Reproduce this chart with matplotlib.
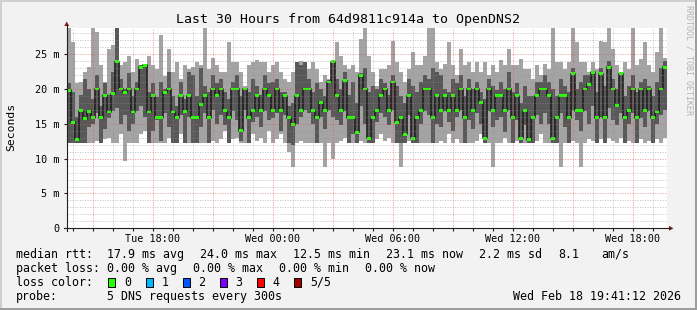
import matplotlib
matplotlib.use("Agg")
import matplotlib.pyplot as plt
import numpy as np
from matplotlib.patches import Polygon, Rectangle
from matplotlib.lines import Line2D

W, H = 697, 310
MONO = "DejaVu Sans Mono"

# time axis: hours since Tue 00:00, graph starts Tue 13:41:12, 12 minute bins
start_hour = 13 + 41.2 / 60
bin_hours = 0.2

# smoke: 5 DNS pings per bin, sorted -> min, 2nd, median, 4th, max (ms)
ping_max = [29.0, 26.7, 20.8, 21.0, 22.4, 23.1, 29.1, 28.2, 23.4, 21.0, 25.8, 26.3, 29.1, 23.4, 23.9,
            24.8, 22.4, 24.3, 23.4, 23.6, 24.8, 23.4, 22.9, 27.7, 21.9, 25.8, 22.4, 23.9, 21.5, 23.4,
            22.9, 23.1, 23.9, 23.4, 29.0, 22.9, 24.5, 23.4, 22.4, 22.4, 26.7, 23.9, 23.9, 22.4, 20.5,
            23.4, 23.9, 24.2, 23.9, 23.9, 22.4, 23.4, 23.9, 22.4, 21.5, 21.0, 22.4, 23.9, 24.0, 23.9,
            22.9, 23.9, 22.9, 21.0, 22.0, 21.5, 24.1, 26.7, 24.8, 23.4, 22.9, 23.4, 22.4, 27.2, 29.0,
            24.8, 22.4, 20.5, 22.9, 22.9, 23.4, 26.9, 23.9, 22.4, 21.0, 22.9, 25.3, 23.4, 23.4, 24.8,
            29.1, 29.5, 23.9, 22.9, 23.6, 26.7, 23.4, 22.0, 25.8, 23.4, 23.9, 22.4, 23.9, 22.4, 23.9,
            22.0, 23.4, 22.4, 24.1, 23.4, 25.8, 23.4, 23.4, 24.3, 22.9, 22.9, 21.5, 23.4, 22.0, 23.6,
            22.9, 29.0, 23.9, 23.9, 22.9, 23.9, 29.3, 26.7, 23.9, 23.9, 22.4, 23.9, 22.9, 26.9, 26.7,
            29.4, 25.8, 23.4, 22.4, 23.9, 22.9, 29.0, 23.4, 24.3, 26.7, 23.4, 22.4, 25.3, 29.0, 24.5]
ping_hi = [20.8, 19.5, 16.0, 19.2, 21.5, 20.0, 18.5, 22.0, 17.5, 20.8, 19.2, 22.5, 29.0, 21.5, 20.0,
           22.3, 19.0, 21.0, 23.4, 23.5, 19.5, 20.8, 18.8, 21.0, 20.0, 22.5, 19.0, 17.5, 21.0, 18.5,
           22.5, 22.0, 19.0, 23.0, 20.5, 19.5, 22.0, 20.8, 21.5, 19.5, 18.5, 21.0, 22.0, 19.0, 20.0,
           19.5, 21.5, 20.5, 19.2, 22.0, 20.8, 21.0, 21.5, 19.5, 19.5, 17.5, 18.0, 23.9, 23.5, 23.9,
           21.5, 19.5, 20.8, 20.0, 19.0, 21.3, 24.0, 21.5, 20.0, 22.5, 19.2, 21.0, 18.0, 22.3, 23.0,
           19.5, 20.5, 20.0, 21.5, 20.8, 19.2, 22.0, 20.5, 19.0, 18.0, 21.5, 20.5, 19.5, 21.0, 22.0,
           21.5, 23.0, 22.5, 22.0, 20.0, 19.5, 21.5, 20.8, 22.0, 19.0, 21.5, 20.0, 21.0, 19.5, 18.5,
           21.5, 20.5, 19.8, 21.0, 20.0, 22.5, 19.5, 20.8, 18.0, 20.5, 19.0, 19.0, 21.0, 21.0, 22.0,
           21.0, 20.0, 19.0, 21.5, 20.5, 19.5, 23.0, 20.0, 21.0, 22.0, 22.0, 22.5, 19.5, 23.0, 20.5,
           24.0, 21.5, 20.0, 22.3, 19.0, 20.5, 22.0, 19.5, 21.0, 21.5, 20.5, 19.0, 21.0, 23.0, 24.0]
ping_med = [19.8, 15.2, 12.8, 16.9, 15.7, 16.8, 15.9, 20.0, 15.9, 19.1, 16.7, 19.3, 23.9, 20.0, 19.5,
            20.0, 16.7, 20.0, 23.1, 23.4, 16.7, 19.0, 15.9, 15.9, 19.5, 20.0, 16.7, 15.9, 19.0, 16.8,
            19.0, 15.9, 15.9, 17.8, 19.0, 15.9, 20.0, 19.0, 20.0, 16.9, 15.9, 20.0, 20.0, 14.0, 20.0,
            15.9, 16.9, 19.0, 16.9, 20.0, 19.0, 16.9, 20.0, 16.9, 19.0, 15.9, 14.9, 19.0, 16.9, 20.0,
            20.0, 16.9, 15.9, 18.1, 16.9, 21.0, 23.9, 19.0, 16.9, 21.2, 15.9, 15.9, 13.8, 22.0, 20.0,
            12.9, 15.9, 16.9, 19.0, 20.0, 16.9, 21.0, 15.2, 15.9, 13.5, 19.0, 12.9, 15.9, 16.9, 20.0,
            20.0, 15.9, 19.0, 16.9, 19.0, 16.9, 19.0, 16.9, 20.0, 15.9, 20.0, 16.9, 20.0, 18.1, 12.9,
            20.0, 16.9, 19.0, 19.1, 16.9, 20.0, 15.9, 19.0, 12.9, 16.9, 12.7, 15.9, 19.0, 20.0, 20.0,
            19.0, 12.9, 15.9, 19.0, 19.0, 15.9, 22.2, 16.9, 16.9, 20.0, 20.7, 22.4, 15.9, 22.2, 15.9,
            23.1, 20.0, 17.6, 22.2, 15.9, 16.9, 20.0, 15.9, 20.0, 16.9, 20.0, 15.9, 16.7, 20.0, 23.1]
ping_lo = [12.3, 12.3, 12.3, 12.3, 12.3, 14.5, 15.0, 16.5, 12.3, 14.2, 15.8, 16.8, 17.2, 15.0, 16.2,
           14.0, 15.0, 16.8, 17.5, 16.0, 12.3, 14.0, 15.5, 12.5, 16.5, 14.5, 12.3, 12.3, 16.2, 12.3,
           16.0, 12.3, 12.3, 14.5, 16.5, 12.3, 17.0, 15.0, 16.2, 14.8, 12.3, 16.8, 15.5, 12.5, 17.0,
           12.3, 15.2, 16.0, 14.5, 16.8, 15.5, 15.8, 16.5, 14.0, 16.2, 12.3, 12.0, 15.0, 16.0, 17.0,
           16.5, 15.0, 12.3, 16.0, 14.2, 17.0, 16.0, 15.5, 14.8, 16.8, 12.3, 13.5, 12.3, 17.5, 15.0,
           12.3, 12.3, 15.2, 16.5, 16.0, 14.8, 17.0, 12.3, 12.3, 12.3, 16.2, 12.3, 12.3, 15.0, 16.8,
           16.2, 12.3, 15.0, 14.5, 16.8, 15.2, 14.0, 16.0, 17.0, 12.3, 15.5, 14.2, 16.5, 15.0, 12.3,
           16.8, 14.5, 15.5, 16.0, 13.8, 17.0, 12.3, 15.5, 12.3, 14.8, 12.3, 12.3, 16.2, 15.0, 16.5,
           15.0, 12.3, 12.3, 16.5, 14.5, 12.3, 17.0, 15.5, 14.0, 16.8, 15.0, 17.5, 12.3, 16.0, 12.3,
           17.2, 15.5, 14.8, 16.5, 12.3, 15.0, 16.5, 12.3, 15.8, 14.5, 16.8, 12.3, 15.0, 16.2, 17.0]
ping_min = [12.2, 12.2, 12.2, 12.2, 12.2, 12.2, 12.2, 12.5, 12.2, 12.8, 13.0, 12.2, 12.2, 13.5, 9.7,
            12.2, 12.2, 12.2, 13.5, 14.0, 12.2, 12.2, 12.2, 12.2, 12.2, 13.0, 12.2, 12.2, 13.5, 12.2,
            12.2, 12.2, 12.2, 12.2, 12.2, 12.2, 12.5, 12.2, 12.8, 14.0, 12.2, 12.8, 13.0, 12.2, 12.2,
            12.2, 13.5, 12.5, 13.0, 12.2, 14.0, 12.2, 12.8, 13.5, 12.2, 11.0, 8.8, 12.2, 12.5, 12.2,
            12.2, 12.2, 12.2, 12.2, 8.8, 12.2, 9.9, 12.2, 12.5, 13.0, 12.2, 12.2, 12.2, 12.5, 12.2,
            12.2, 12.2, 12.8, 13.5, 12.5, 13.0, 12.2, 12.2, 8.8, 12.2, 12.5, 12.2, 12.2, 12.2, 12.2,
            12.2, 12.2, 12.2, 12.5, 12.2, 13.5, 12.2, 12.8, 12.2, 12.2, 12.2, 12.2, 12.5, 13.5, 12.2,
            12.2, 8.8, 12.2, 12.2, 13.0, 12.2, 12.2, 12.5, 12.2, 12.2, 12.2, 12.2, 12.5, 13.5, 12.2,
            12.2, 12.2, 12.2, 8.8, 12.2, 12.2, 12.5, 12.2, 8.8, 12.2, 12.8, 12.5, 12.2, 12.8, 12.2,
            13.0, 12.5, 12.2, 13.0, 12.2, 12.5, 12.2, 12.2, 12.8, 12.2, 12.5, 12.2, 12.8, 12.2, 13.0]

ytick_vals = [0, 5, 10, 15, 20, 25]
ytick_labels = ["0", "5 m", "10 m", "15 m", "20 m", "25 m"]
xtick_hours = [18, 24, 30, 36, 42]
xtick_labels = ["Tue 18:00", "Wed 00:00", "Wed 06:00", "Wed 12:00", "Wed 18:00"]

loss_labels = ["0", "1", "2", "3", "4", "5/5"]
loss_colors = ["#26ff00", "#00b8ff", "#0059ff", "#7e00ff", "#ff0000", "#a10000"]

rtt_items = ["17.9 ms avg", "24.0 ms max", "12.5 ms min", "23.1 ms now", "2.2 ms sd", "8.1", "am/s"]
rtt_x = [107, 200, 293, 386, 479, 558, 601]
loss_items = ["0.00 % avg", "0.00 % max", "0.00 % min", "0.00 % now"]
loss_x = [107, 193, 279, 365]


def fx(px):
    return px / W


def fy(py):
    return 1 - py / H


fig = plt.figure(figsize=(W / 100, H / 100), dpi=100, facecolor="#f2f2f2")

# 3d frame of the rrdtool canvas
fig.patches.append(Rectangle((0, fy(2)), 1, 2 / H, transform=fig.transFigure, color="#cfcfcf", lw=0))
fig.patches.append(Rectangle((0, 0), 2 / W, 1, transform=fig.transFigure, color="#cfcfcf", lw=0))
fig.patches.append(Rectangle((0, 0), 1, 2 / H, transform=fig.transFigure, color="#9e9e9e", lw=0))
fig.patches.append(Rectangle((fx(W - 2), 0), 2 / W, 1, transform=fig.transFigure, color="#9e9e9e", lw=0))

ax = fig.add_axes([fx(66.7), fy(228.3), 600 / W, 200.6 / H])
ax.set_facecolor("white")
for s in ax.spines.values():
    s.set_visible(False)

n = len(ping_med)
xe = start_hour + bin_hours * np.arange(n + 1)
ext = lambda a: np.append(a, a[-1])

ax.fill_between(xe, ext(ping_min), ext(ping_max), step="post", color="#a4a4a4", lw=0, zorder=1)
ax.fill_between(xe, ext(ping_lo), ext(ping_hi), step="post", color="#585858", lw=0, zorder=2)
ax.step(xe, ext(ping_med), where="post", color="#202020", lw=1.2, zorder=3)
ax.bar(xe[:-1], 0.42, bottom=np.array(ping_med) - 0.21, width=bin_hours, align="edge",
       color="#26ff00", lw=0, zorder=4)

ax.set_xlim(start_hour, start_hour + 30)
ax.set_ylim(0, 28.8)

# grid: minor every hour / 1 ms, major every 3 hours / 5 ms
for h in range(14, 44):
    if h % 3 == 0:
        ax.axvline(h, color=(0.87, 0.31, 0.31), alpha=0.55, lw=0.6, ls=(0, (1.5, 1.5)), zorder=5)
    else:
        ax.axvline(h, color=(0.56, 0.56, 0.56), alpha=0.5, lw=0.6, ls=(0, (1.5, 1.5)), zorder=5)
for v in range(1, 29):
    if v % 5 == 0:
        ax.axhline(v, color=(0.87, 0.31, 0.31), alpha=0.55, lw=0.6, ls=(0, (1.5, 1.5)), zorder=5)
    else:
        ax.axhline(v, color=(0.56, 0.56, 0.56), alpha=0.5, lw=0.6, ls=(0, (1.5, 1.5)), zorder=5)

ax.set_yticks(ytick_vals)
ax.set_yticklabels(ytick_labels, family=MONO, fontsize=7.3)
ax.set_xticks(xtick_hours)
ax.set_xticklabels(xtick_labels, family=MONO, fontsize=7.3)
ax.set_xticks(range(14, 44), minor=True)
ax.tick_params(axis="y", which="major", length=2.5, width=0.8, color="#1f1f1f", pad=2.5)
ax.tick_params(axis="x", which="major", length=2.5, width=0.8, color="#1f1f1f", pad=1.5)
ax.tick_params(axis="x", which="minor", length=2, width=0.8, color="#1f1f1f")

# axes with arrows
fig.add_artist(Line2D([fx(66.7), fx(66.7)], [fy(231), fy(25)], color="#1f1f1f", lw=0.8))
fig.add_artist(Line2D([fx(63.5), fx(670)], [fy(228.3), fy(228.3)], color="#1f1f1f", lw=0.8))
fig.add_artist(Polygon([(fx(64.2), fy(26)), (fx(69.2), fy(26)), (fx(66.7), fy(21.5))],
                       closed=True, transform=fig.transFigure, color="#801f1f", lw=0))
fig.add_artist(Polygon([(fx(669), fy(225.8)), (fx(669), fy(230.8)), (fx(673.5), fy(228.3))],
                       closed=True, transform=fig.transFigure, color="#801f1f", lw=0))

fig.text(fx(348), fy(19), "Last 30 Hours from 64d9811c914a to OpenDNS2", family=MONO,
         fontsize=9.5, ha="center", va="center")
fig.text(fx(11), fy(127), "Seconds", family=MONO, fontsize=8.2, rotation=90, ha="center", va="center")
fig.text(fx(689), fy(5), "RRDTOOL / TOBI OETIKER", family=MONO, fontsize=6, rotation=270,
         ha="center", va="top", color="#b4b4b4")

# legend
rows = [254.3, 268.3, 282.3, 296.2]
fs = 8.4
fig.text(fx(16), fy(rows[0]), "median rtt:", family=MONO, fontsize=fs, va="center")
for t, x in zip(rtt_items, rtt_x):
    fig.text(fx(x), fy(rows[0]), t, family=MONO, fontsize=fs, va="center")
fig.text(fx(16), fy(rows[1]), "packet loss:", family=MONO, fontsize=fs, va="center")
for t, x in zip(loss_items, loss_x):
    fig.text(fx(x), fy(rows[1]), t, family=MONO, fontsize=fs, va="center")
fig.text(fx(16), fy(rows[2]), "loss color:", family=MONO, fontsize=fs, va="center")
for i, (lab, col) in enumerate(zip(loss_labels, loss_colors)):
    bx = 108.3 + 37.2 * i
    fig.patches.append(Rectangle((fx(bx), fy(rows[2] + 4.5)), 7 / W, 9 / H, transform=fig.transFigure,
                                 facecolor=col, edgecolor="black", lw=0.7))
    fig.text(fx(bx + 15.7), fy(rows[2]), lab, family=MONO, fontsize=fs, va="center")
fig.text(fx(16), fy(rows[3]), "probe:", family=MONO, fontsize=fs, va="center")
fig.text(fx(107), fy(rows[3]), "5 DNS requests every 300s", family=MONO, fontsize=fs, va="center")
fig.text(fx(681), fy(rows[3]), "Wed Feb 18 19:41:12 2026", family=MONO, fontsize=fs, va="center", ha="right")

fig.savefig("out.png", dpi=100, facecolor=fig.get_facecolor())
